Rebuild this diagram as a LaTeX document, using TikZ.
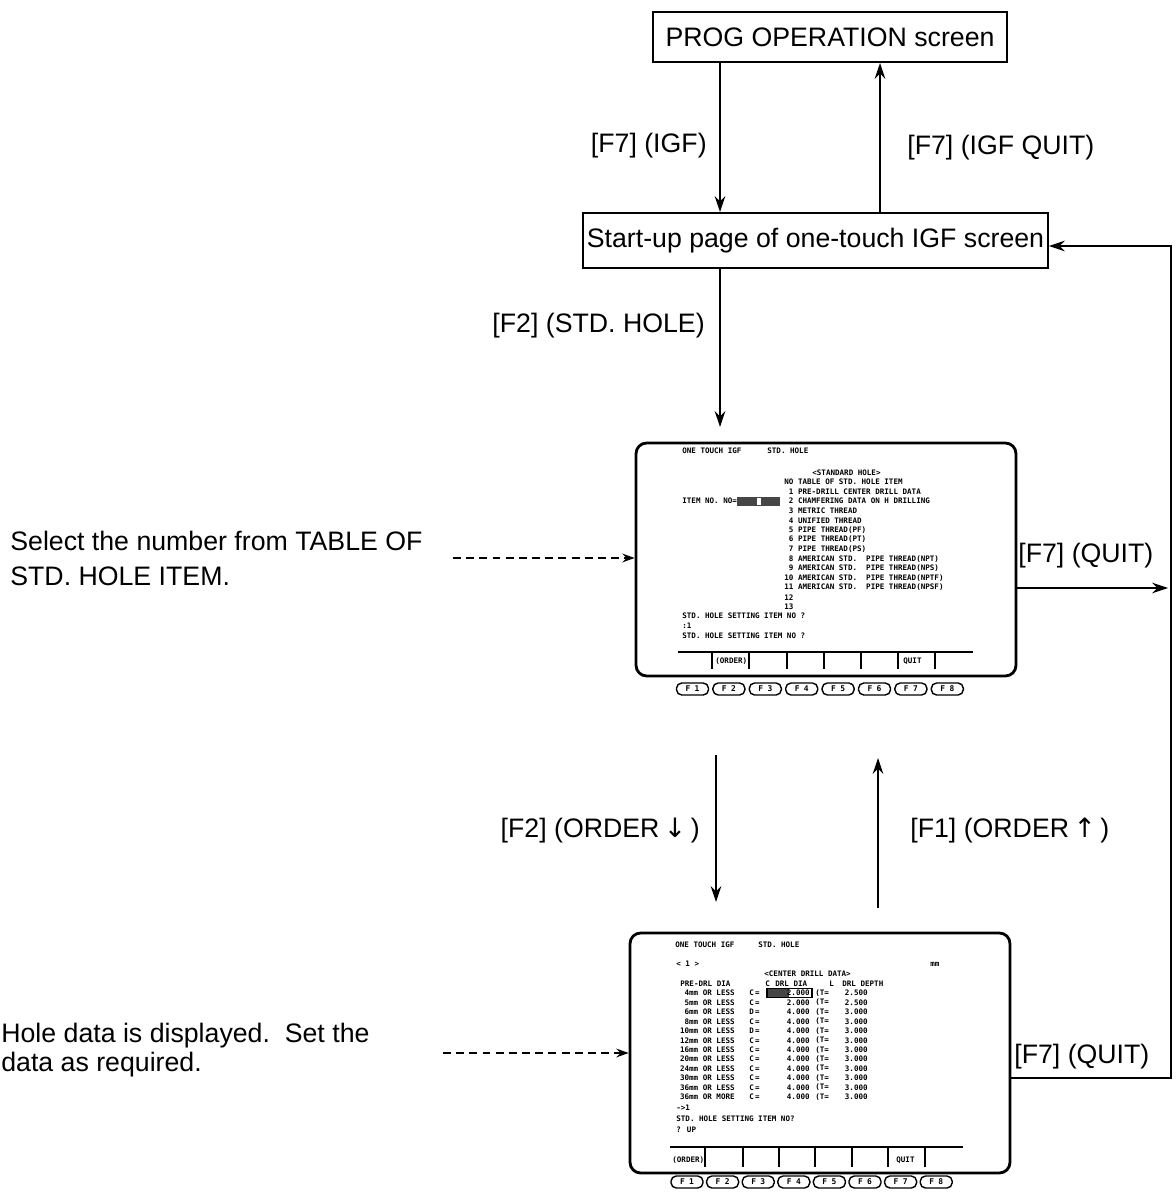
\documentclass[tikz,border=0pt]{standalone}
\usepackage{fontspec}
\setmainfont{Liberation Sans}
\newfontfamily\scrfont{DejaVu Sans Mono}
\newfontfamily\symfont{DejaVu Sans}
\usetikzlibrary{arrows.meta}
\begin{document}
\begin{tikzpicture}[x=0.02cm,y=-0.02cm,
  lbl/.style={inner sep=0pt, font=\fontsize{15.2}{18}\selectfont},
  box/.style={draw, line width=1.1pt, inner sep=0pt, font=\fontsize{15.2}{18}\selectfont},
  arr/.style={line width=0.9pt, -{Stealth[length=9pt,width=6pt,inset=3pt]}},
  darr/.style={line width=0.8pt, dash pattern=on 4.5pt off 3pt, -{Stealth[length=7pt,width=5pt,inset=2.5pt]}},
  screen/.style={draw, line width=1.6pt, rounded corners=6pt, inner sep=0pt},
  st/.style={inner sep=0pt, anchor=west, font=\scrfont\bfseries\fontsize{4.3}{5}\selectfont},
  fkey/.style={draw, line width=0.8pt, rounded corners=3pt, minimum width=0.64cm, minimum height=0.24cm, inner sep=0pt, font=\scrfont\bfseries\fontsize{4.5}{5}\selectfont},
  skline/.style={line width=0.9pt}
]
\useasboundingbox (0,0) rectangle (1175,1195);

% top boxes
\node[box, minimum width=7.08cm, minimum height=1.0cm] (prog) at (830,37) {PROG OPERATION screen};
\node[box, minimum width=9.3cm, minimum height=1.1cm] (start) at (815.5,240.5) {Start-up page of one-touch IGF screen};

\coordinate (xa) at (720,0);
\coordinate (xb) at (880,0);
\draw[arr] (prog.south -| xa) -- (start.north -| xa);
\draw[arr] (start.north -| xb) -- (prog.south -| xb);
\node[lbl, anchor=base east] (l1) at (707,153) {[F7] (IGF)};
\node[lbl, anchor=base west] (l2) at (907,155) {[F7] (IGF QUIT)};

\coordinate (s1in) at (720,427);
\draw[arr] (start.south -| s1in) -- (s1in);
\node[lbl, anchor=base east] (l3) at (705,333) {[F2] (STD. HOLE)};

% screens
\node[screen, minimum width=7.6cm, minimum height=4.66cm] (scrA) at (826,559.5) {};
\node[screen, minimum width=7.6cm, minimum height=4.8cm] (scrB) at (820,1053) {};

% right side
\coordinate (qA) at (1168,588);
\draw[arr] (scrA.east |- qA) -- (qA);
\node[lbl, anchor=base west] (l4) at (1018,562) {[F7] (QUIT)};
\coordinate (rb) at (1171,1078);
\coordinate (rt) at (1171,246);
\draw[arr] (scrB.east |- rb) -- (rb) -- (rt) -- (start.east |- rt);
\node[lbl, anchor=base west] (l5) at (1014,1063) {[F7] (QUIT)};

% order arrows
\coordinate (o1a) at (716,755);
\coordinate (o1b) at (716,902);
\draw[arr] (o1a) -- (o1b);
\coordinate (o2a) at (878,908);
\coordinate (o2b) at (878,758);
\draw[arr] (o2a) -- (o2b);
\node[lbl, anchor=base east] (l6) at (700,837) {[F2] (ORDER\,{\symfont ↓}\,)};
\node[lbl, anchor=base west] (l7) at (910,837) {[F1] (ORDER\,{\symfont ↑}\,)};

% notes
\node[lbl, anchor=base west] (n1a) at (10,550) {Select the number from TABLE OF};
\node[lbl, anchor=base west] (n1b) at (10,585) {STD. HOLE ITEM.};
\coordinate (d1) at (453,558);
\draw[darr] (d1) -- (scrA.west |- d1);
\node[lbl, anchor=base west] (n2a) at (1,1042) {Hole data is displayed.\ \ Set the};
\node[lbl, anchor=base west] (n2b) at (1,1071) {data as required.};
\coordinate (d2) at (443,1053);
\draw[darr] (d2) -- (scrB.west |- d2);

% ---------- screen 1 content
\node[st] (a1) at (682,451) {ONE TOUCH IGF};
\node[st] (a2) at (767,451) {STD. HOLE};
\node[st] (a3) at (812,473) {<STANDARD HOLE>};
\foreach \t [count=\k from 0] in {NO TABLE OF STD. HOLE ITEM,
  \phantom{1}1 PRE-DRILL CENTER DRILL DATA,
  \phantom{1}2 CHAMFERING DATA ON H DRILLING,
  \phantom{1}3 METRIC THREAD,
  \phantom{1}4 UNIFIED THREAD,
  \phantom{1}5 PIPE THREAD(PF),
  \phantom{1}6 PIPE THREAD(PT),
  \phantom{1}7 PIPE THREAD(PS),
  \phantom{1}8 AMERICAN STD.\ \ PIPE THREAD(NPT),
  \phantom{1}9 AMERICAN STD.\ \ PIPE THREAD(NPS),
  10 AMERICAN STD.\ \ PIPE THREAD(NPTF),
  11 AMERICAN STD.\ \ PIPE THREAD(NPSF),
  12, 13}
  \node[st] (at\k) at (784,{482+9.6*\k}) {\t};
\node[st] (ai) at (682,501) {ITEM NO. NO=};
\fill[gray!55!black] (737,497) rectangle (780,505.5);
\fill[white] (757,498) rectangle (760.5,504.5);
\node[st] (ah1) at (682,616) {STD. HOLE SETTING ITEM NO ?};
\node[st] (ah2) at (682,626) {:1};
\node[st] (ah3) at (682,636) {STD. HOLE SETTING ITEM NO ?};
\draw[skline] (678,652) -- (973,652);
\foreach \x in {712,749,787,824,861,898,935} \draw[skline] (\x,652) -- (\x,669);
\node[st] (ak2) at (715,661) {(ORDER)};
\node[st] (ak7) at (903,661) {QUIT};
\foreach \i in {1,...,8} \node[fkey] (fa\i) at ({692.5+(\i-1)*36.4},689) {F\hspace{2.5pt}\i};

% ---------- screen 2 content
\node[st] (b1) at (675,945) {ONE TOUCH IGF};
\node[st] (b2) at (758,945) {STD. HOLE};
\node[st] (b3) at (676,964) {< 1 >};
\node[st] (b4) at (930,964) {mm};
\node[st] (b5) at (764,974) {<CENTER DRILL DATA>};
\node[st] (bh1) at (680,984) {PRE-DRL DIA};
\node[st] (bh2) at (765,984) {C};
\node[st] (bh3) at (775,984) {DRL DIA};
\node[st] (bh4) at (829,984) {L};
\node[st] (bh5) at (842,984) {DRL DEPTH};
\draw[line width=0.6pt] (767,988.5) rectangle (812,997.5);
\fill[gray!55!black] (767.5,989) rectangle (789,997);
\foreach \lab/\c/\v/\d [count=\k from 0] in {
  4mm OR LESS/C/2.000/2.500,
  5mm OR LESS/C/2.000/2.500,
  6mm OR LESS/D/4.000/3.000,
  8mm OR LESS/C/4.000/3.000,
  10mm OR LESS/D/4.000/3.000,
  12mm OR LESS/C/4.000/3.000,
  16mm OR LESS/C/4.000/3.000,
  20mm OR LESS/C/4.000/3.000,
  24mm OR LESS/C/4.000/3.000,
  30mm OR LESS/C/4.000/3.000,
  36mm OR LESS/C/4.000/3.000,
  36mm OR MORE/C/4.000/3.000}{
  \node[st, anchor=east] (rl\k) at (735,{993+9.45*\k}) {\lab};
  \node[st] (rc\k) at (749,{993+9.45*\k}) {\c\,=};
  \node[st, anchor=east] (rv\k) at (810,{993+9.45*\k}) {\v};
  \node[st] (rt\k) at (815,{993+9.45*\k}) {(T=};
  \node[st, anchor=east] (rd\k) at (868,{993+9.45*\k}) {\d};
}
\node[st] (bs1) at (676,1108) {->1};
\node[st] (bs2) at (676,1119) {STD. HOLE SETTING ITEM NO?};
\node[st] (bs3) at (676,1130) {? UP};
\draw[skline] (670,1147) -- (963,1147);
\foreach \x in {705,743,779,815,852,888,925} \draw[skline] (\x,1147) -- (\x,1167);
\node[st] (bk1) at (672,1160) {(ORDER)};
\node[st] (bk7) at (896,1160) {QUIT};
\foreach \i in {1,...,8} \node[fkey] (fb\i) at ({687+(\i-1)*35.6},1182) {F\hspace{2.5pt}\i};
\end{tikzpicture}
\end{document}
